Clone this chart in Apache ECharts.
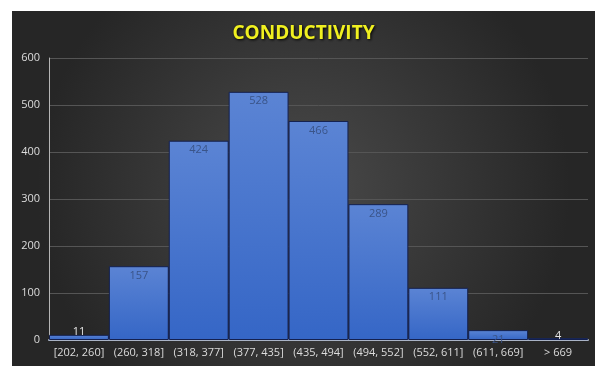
<!DOCTYPE html>
<html>
<head>
<meta charset="utf-8">
<script src="https://cdn.jsdelivr.net/npm/echarts@6/dist/echarts.min.js"></script>
<style>
html,body{margin:0;padding:0;background:#ffffff;width:595px;height:366px;overflow:hidden;}
#chart{position:absolute;left:12px;top:11px;width:583px;height:355px;}
</style>
</head>
<body>
<div id="chart"></div>
<script>
var categories = ['[202, 260]', '(260, 318]', '(318, 377]', '(377, 435]', '(435, 494]', '(494, 552]', '(552, 611]', '(611, 669]', '> 669'];
var counts = [11, 157, 424, 528, 466, 289, 111, 21, 4];
var yTicks = [0, 100, 200, 300, 400, 500, 600];

var chart = echarts.init(document.getElementById('chart'), null, {renderer: 'canvas'});
var barData = counts.map(function (v) {
  var small = v < 15;
  return {
    value: v,
    label: small ? {position: 'top', distance: -3, color: '#e6e6e6'} : {position: 'insideTop', distance: 4, color: '#3a5488'}
  };
});
chart.setOption({
  backgroundColor: {
    type: 'radial', x: 0.5, y: 0.5, r: 0.75,
    colorStops: [{offset: 0, color: '#4a4a4a'}, {offset: 1, color: '#262626'}]
  },
  title: {
    text: 'CONDUCTIVITY', left: 'center', top: 8,
    textStyle: {color: '#f0f020', fontSize: 19, fontWeight: 'bold', fontFamily: 'Open Sans',
      textShadowColor: '#000', textShadowBlur: 3, textShadowOffsetX: 1, textShadowOffsetY: 1}
  },
  grid: {left: 37, right: 7, top: 47, bottom: 26, containLabel: false},
  xAxis: {
    type: 'category', data: categories,
    axisLine: {show: true, lineStyle: {color: '#a9b3c6', width: 2}},
    axisTick: {show: false},
    axisLabel: {color: '#dcdcdc', fontSize: 11, fontFamily: 'Open Sans', margin: 7, interval: 0}
  },
  yAxis: {
    type: 'value', min: yTicks[0], max: yTicks[yTicks.length - 1], interval: 100,
    axisLine: {show: true, lineStyle: {color: '#b5b5b5', width: 1}},
    axisTick: {show: false},
    axisLabel: {color: '#dcdcdc', fontSize: 11, fontFamily: 'Open Sans', margin: 9},
    splitLine: {show: true, lineStyle: {color: '#555555', width: 1}}
  },
  series: [{
    type: 'bar', data: barData, barCategoryGap: 0, barGap: 0,
    itemStyle: {
      color: {type: 'linear', x: 0, y: 0, x2: 0, y2: 1,
        colorStops: [{offset: 0, color: '#5b84d4'}, {offset: 1, color: '#3566c6'}]},
      borderColor: '#14204f', borderWidth: 1
    },
    label: {show: true, fontSize: 11, fontFamily: 'Open Sans'}
  }]
});
</script>
</body>
</html>
